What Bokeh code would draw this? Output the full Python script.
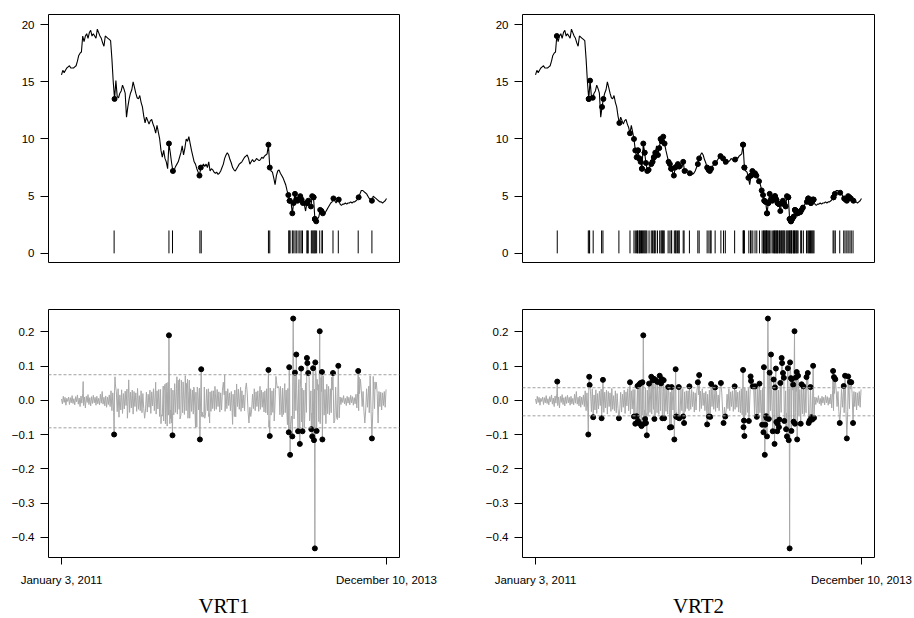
import numpy as np
from bokeh.plotting import figure
from bokeh.layouts import row, column
from bokeh.models import FixedTicker, Span, Range1d
from bokeh.core.properties import value
from bokeh.embed import file_html
from bokeh.resources import INLINE

# ---------------- data ----------------
price_step = 3  # trading days between stored prices
ret_step = 2    # trading days between stored ordinary returns
n_last_day = 735
date_labels = ["January 3, 2011", "December 10, 2013"]
panel_names = ["VRT1", "VRT2"]

price = [
    15.6, 16.0, 15.8, 16.0, 16.2, 16.3, 16.4, 16.2, 16.2, 16.2,
    16.3, 16.4, 16.8, 17.3, 17.5, 17.6, 19.0, 18.5, 19.0, 19.2,
    18.8, 19.3, 19.5, 19.0, 19.2, 19.0, 18.8, 19.6, 19.3, 19.0,
    18.8, 18.4, 18.1, 19.0, 18.9, 18.8, 18.7, 18.6, 17.0, 15.0,
    13.5, 15.1, 13.7, 13.6, 14.0, 14.2, 14.7, 14.4, 14.0, 11.9,
    12.8, 13.5, 14.0, 14.3, 15.0, 14.5, 14.0, 13.6, 13.5, 13.8,
    13.2, 12.8, 12.0, 11.4, 11.9, 11.6, 11.3, 11.6, 11.7, 11.3,
    11.0, 10.5, 11.2, 10.6, 10.0, 9.0, 8.4, 9.0, 8.3, 8.0,
    7.4, 9.6, 8.8, 7.9, 7.2, 7.3, 7.6, 7.8, 8.0, 8.4,
    8.8, 9.4, 8.6, 9.2, 10.0, 9.8, 10.2, 9.6, 9.0, 8.5,
    8.0, 7.8, 7.4, 7.1, 6.8, 7.5, 7.6, 7.8, 7.6, 7.8,
    7.5, 8.0, 7.2, 7.4, 7.3, 7.1, 7.0, 7.1, 6.9, 7.0,
    7.2, 7.5, 7.8, 8.3, 8.6, 8.8, 8.6, 8.2, 7.9, 7.5,
    7.3, 7.2, 7.4, 7.6, 7.8, 7.9, 8.0, 8.2, 8.4, 8.5,
    8.6, 8.3, 7.8, 8.0, 8.2, 8.0, 8.1, 8.3, 8.2, 8.1,
    8.2, 8.4, 8.3, 8.5, 8.6, 8.7, 9.5, 7.5, 7.2, 7.1,
    6.6, 6.0, 6.8, 7.2, 7.3, 7.0, 6.8, 6.6, 6.3, 6.0,
    5.5, 5.1, 4.6, 4.5, 3.5, 4.4, 5.2, 4.7, 4.6, 4.9,
    5.0, 4.7, 4.4, 4.3, 3.7, 4.4, 4.6, 4.3, 4.1, 5.0,
    4.9, 3.0, 2.8, 3.0, 3.2, 3.8, 3.7, 3.5, 3.4, 3.6,
    3.8, 4.0, 4.2, 4.4, 4.5, 4.8, 4.6, 4.4, 4.7, 4.7,
    4.3, 4.2, 4.3, 4.3, 4.4, 4.3, 4.4, 4.4, 4.5, 4.4,
    4.5, 4.5, 4.6, 4.7, 4.9, 5.2, 5.5, 5.5, 5.4, 5.3,
    5.2, 5.0, 4.8, 4.7, 4.6, 5.0, 4.9, 4.8, 4.7, 4.6,
    4.5, 4.5, 4.4, 4.5, 4.6, 4.8,
]

ret_base = [
    # Jan 2011 - mid 2011 (quiet)
    0.004, -0.010, 0.012, -0.006, 0.009, -0.014, 0.006, -0.003, 0.010, -0.012,
    0.008, -0.007, 0.014, -0.009, 0.005, -0.013, 0.011, -0.004, 0.016, -0.011,
    0.007, -0.018, 0.013, -0.008, 0.020, -0.015, 0.010, -0.022, 0.012, -0.006,
    0.017, -0.012, 0.008, -0.016, 0.011, -0.009, 0.015, -0.007, 0.009, -0.014,
    0.012, -0.010, 0.006, -0.013, 0.018, -0.008, 0.026, -0.011, 0.009, -0.016,
    0.013, -0.020, 0.010, -0.012, 0.016, -0.018,
    # mid 2011 - late 2011
    0.028, -0.030, 0.022, -0.036, 0.030, -0.018, 0.025, -0.033, 0.034, -0.020,
    0.016, -0.028, 0.031, -0.038, 0.020, -0.025, 0.027, -0.015, 0.033, -0.030,
    0.018, -0.035, 0.024, -0.022, 0.030, -0.040, 0.026, -0.018, 0.022, -0.032,
    0.035, -0.026, 0.014, -0.030, 0.028, -0.036, 0.020, -0.024, 0.032, -0.028,
    0.024, -0.034, 0.018, -0.020, 0.030, -0.038, 0.025, -0.016, 0.034, -0.030,
    0.022, -0.040, 0.028, -0.025, 0.032,
    # late 2011 - spring 2012 (busy)
    -0.038, 0.032, -0.042, 0.035, -0.030, 0.028, -0.040, 0.036, -0.034, 0.025,
    -0.043, 0.034, -0.028, 0.036, -0.038, 0.030, -0.042, 0.022, -0.035, 0.035,
    -0.040, 0.031, -0.026, 0.036, -0.043, 0.033, -0.036, 0.028, -0.041, 0.035,
    -0.030, 0.036, -0.038, 0.026, -0.043, 0.034, -0.032, 0.030, -0.040, 0.036,
    -0.035, 0.024, -0.042, 0.033, -0.028, 0.036, -0.039, 0.030, -0.034, 0.035,
    -0.041, 0.027, -0.036, 0.032, -0.030, 0.034, -0.038, 0.025, -0.032, 0.028,
    # spring 2012 - autumn 2012
    -0.024, 0.028, -0.030, 0.020, -0.026, 0.032, -0.018, 0.025, -0.034, 0.022,
    -0.028, 0.030, -0.020, 0.016, -0.032, 0.027, -0.024, 0.034, -0.015, 0.022,
    -0.030, 0.026, -0.036, 0.018, -0.022, 0.030, -0.028, 0.024, -0.018, 0.033,
    -0.026, 0.020, -0.032, 0.028, -0.022, 0.016, -0.030, 0.032, -0.025, 0.022,
    -0.034, 0.026, -0.020, 0.030, -0.028, 0.018, -0.024, 0.034, -0.030, 0.025,
    -0.018, 0.028, -0.032, 0.022, -0.026, 0.030, -0.020, 0.024, -0.034, 0.028,
    # autumn 2012 - mid 2013 (very busy)
    -0.036, 0.034, -0.042, 0.030, -0.038, 0.036, -0.043, 0.028, -0.035, 0.035,
    -0.040, 0.032, -0.043, 0.036, -0.030, 0.034, -0.042, 0.025, -0.038, 0.036,
    -0.041, 0.033, -0.036, 0.030, -0.043, 0.035, -0.034, 0.036, -0.040, 0.028,
    -0.042, 0.034, -0.038, 0.036, -0.030, 0.032, -0.043, 0.035, -0.036, 0.026,
    -0.041, 0.036, -0.039, 0.030, -0.043, 0.034, -0.035, 0.036, -0.040, 0.031,
    -0.042, 0.028, -0.037, 0.035, -0.043, 0.033, -0.038, 0.036, -0.032, 0.030,
    -0.041, 0.034, -0.036, 0.026, -0.040, 0.035, -0.043, 0.032, -0.034, 0.036,
    -0.039, 0.028, -0.042, 0.034, -0.036, 0.030, -0.038, 0.032, -0.030, 0.026,
    -0.034, 0.028, -0.032, 0.024,
    # mid 2013 (quiet spell)
    0.010, -0.012, 0.008, -0.006, 0.014, -0.010, 0.006, -0.015, 0.012, -0.008,
    0.009, -0.013, 0.015, -0.007, 0.011, -0.014, 0.008, -0.010, 0.018,
    # late 2013
    -0.022, 0.028, -0.030, 0.020, -0.034, 0.030, -0.018, 0.026, -0.032, 0.024,
    -0.028, 0.034, -0.020, 0.022, -0.036, 0.030, -0.026, 0.018, -0.032, 0.028,
    -0.024, 0.033, -0.030, 0.020, -0.035, 0.026, -0.018, 0.024, -0.028, 0.022,
    -0.015, 0.026, -0.020, 0.032,
]

# flagged days (trading-day index) and their returns
out_day = [
    49, 119, 121, 122, 130, 149, 152, 188, 213, 222, 225, 228, 230, 231, 234,
    235, 237, 239, 241, 243, 245, 247, 249, 251, 256, 261, 264, 267, 268, 271,
    275, 280, 283, 285, 286, 289, 290, 299, 303, 306, 307, 313, 316, 317, 320,
    323, 324, 333, 335, 347, 366, 369, 387, 391, 394, 396, 405, 418, 424, 428,
    449, 468, 469, 470, 471, 481, 485, 486, 490, 495, 499, 505, 511, 514, 515,
    517, 518, 520, 521, 522, 524, 526, 528, 531, 535, 537, 539, 540, 542, 543,
    545, 546, 549, 550, 552, 555, 556, 558, 560, 561, 565, 567, 569, 571, 573,
    574, 576, 577, 578, 581, 582, 584, 585, 587, 589, 590, 592, 598, 600, 604,
    611, 614, 616, 618, 620, 622, 624, 626, 628, 671, 673, 676, 686, 695, 698,
    702, 705, 709, 712, 716,
]
out_ret = [
    0.055, -0.0995, 0.069, 0.045, -0.049, -0.052, 0.060, -0.052, 0.053, -0.047, -0.068, -0.046, 0.042, -0.060, 0.047,
    -0.068, 0.051, -0.075, 0.053, 0.190, -0.068, -0.054, -0.066, -0.102, 0.049, 0.069, 0.059, 0.063, -0.054, 0.059,
    0.054, 0.072, 0.050, 0.062, -0.052, 0.059, -0.052, 0.039, -0.079, -0.078, 0.039, -0.114, 0.091, -0.047, -0.049,
    0.039, -0.052, -0.047, -0.066, 0.041, 0.053, 0.074, -0.070, -0.047, -0.048, 0.048, 0.038, 0.051, -0.066, -0.047,
    0.041, 0.089, -0.078, -0.059, -0.104, -0.060, 0.070, 0.057, 0.041, 0.041, -0.048, 0.049, -0.071, -0.093, 0.097,
    -0.159, -0.071, -0.046, -0.051, -0.105, 0.239, -0.054, 0.081, 0.134, -0.090, 0.061, -0.127, 0.038, 0.093, -0.063,
    -0.090, -0.068, -0.078, -0.056, 0.051, 0.124, 0.109, 0.080, 0.066, -0.060, -0.084, -0.105, 0.094, -0.116, -0.432,
    0.111, 0.065, -0.089, 0.062, 0.046, -0.062, 0.202, -0.068, 0.067, 0.083, -0.114, 0.072, -0.068, 0.047, 0.041,
    0.068, 0.080, -0.066, -0.059, 0.039, -0.049, -0.056, 0.101, -0.051, 0.086, 0.068, 0.062, -0.066, 0.042, 0.072,
    -0.111, 0.070, 0.054, 0.053, -0.066,
]

# dashed bounds of each rule (upper, lower)
bounds = {"VRT1": (0.075, -0.08), "VRT2": (0.037, -0.045)}
price_ticks = [0, 5, 10, 15, 20]
ret_ticks = [-0.4, -0.3, -0.2, -0.1, 0.0, 0.1, 0.2]
rug_height = 2

# ---------------- derived ----------------
price = np.array(price)
pdays = np.arange(len(price)) * price_step
rdays = np.arange(len(ret_base)) * ret_step
od = np.array(out_day)
ov = np.array(out_ret)
keep = ~np.isin(rdays, od)
all_d = np.concatenate([rdays[keep], od])
all_v = np.concatenate([np.array(ret_base)[keep], ov])
order = np.argsort(all_d, kind="stable")
ret_x, ret_y = all_d[order], all_v[order]
grid_idx = np.rint(od / price_step).astype(int)

xr = (-0.04 * n_last_day, 1.04 * n_last_day)
top_yr = (-0.80, 20.88)
bot_yr = (-0.4586, 0.2654)

TICK_FONT = "Liberation Sans"
TICK_SIZE = "11.5px"

# column geometry: (figure width, left border, right border)
COLS = [(460, 48, 61), (452, 62, 38)]
FRAME_H = 248


def fmt(v):
    s = "%.1f" % abs(v)
    return ("\u2212" + s) if v < -1e-9 else s


def style(p, lb, rb, tb, bb):
    p.min_border_left = lb
    p.min_border_right = rb
    p.min_border_top = tb
    p.min_border_bottom = bb
    p.grid.grid_line_color = None
    p.outline_line_color = "black"
    p.outline_line_alpha = 1.0
    p.outline_line_width = 1
    p.background_fill_color = "white"
    p.border_fill_color = "white"
    for ax in p.yaxis:
        ax.axis_line_color = None
        ax.major_tick_out = 8
        ax.major_tick_in = 0
        ax.minor_tick_line_color = None
        ax.major_tick_line_color = "black"
        ax.major_label_standoff = 6
        ax.major_label_text_font = TICK_FONT
        ax.major_label_text_font_size = TICK_SIZE
        ax.major_label_text_color = "black"


def top_panel(mask, col):
    width, lb, rb = COLS[col]
    p = figure(width=width, height=14 + FRAME_H + 23, output_backend="svg",
               toolbar_location=None, x_range=Range1d(*xr), y_range=Range1d(*top_yr),
               x_axis_location=None, title=None)
    style(p, lb, rb, 14, 23)
    p.yaxis.ticker = FixedTicker(ticks=price_ticks)
    p.line(pdays, price, line_color="black", line_width=1.1)
    gi = grid_idx[mask]
    p.scatter(pdays[gi], price[gi], size=5, color="black")
    d = od[mask]
    p.segment(x0=d, y0=np.zeros(len(d)), x1=d, y1=np.full(len(d), rug_height),
              line_color="black", line_width=1)
    return p


def bottom_panel(mask, name, col):
    width, lb, rb = COLS[col]
    up, lo = bounds[name]
    p = figure(width=width, height=24 + FRAME_H + 31, output_backend="svg",
               toolbar_location=None, x_range=Range1d(*xr), y_range=Range1d(*bot_yr),
               title=None)
    style(p, lb, rb, 24, 31)
    p.yaxis.ticker = FixedTicker(ticks=ret_ticks)
    p.yaxis.major_label_overrides = {t: fmt(t) for t in ret_ticks}
    xa = p.xaxis[0]
    xa.ticker = FixedTicker(ticks=[0, n_last_day])
    xa.major_label_overrides = {0: date_labels[0], n_last_day: date_labels[1]}
    xa.axis_line_color = None
    xa.major_tick_out = 7
    xa.major_tick_in = 0
    xa.minor_tick_line_color = None
    xa.major_label_standoff = 9
    xa.major_label_text_font = TICK_FONT
    xa.major_label_text_font_size = TICK_SIZE
    xa.major_label_text_color = "black"
    for loc in (up, lo):
        p.add_layout(Span(location=loc, dimension="width", line_color="#a0a0a0",
                          line_dash="3 2", line_width=1))
    p.line(ret_x, ret_y, line_color="#a8a8a8", line_width=1)
    p.scatter(od[mask], ov[mask], size=5, color="black")
    return p


def name_panel(name, col):
    width, lb, rb = COLS[col]
    h = 30
    p = figure(width=width, height=h, output_backend="svg", toolbar_location=None,
               x_range=Range1d(0, width), y_range=Range1d(0, h),
               x_axis_location=None, y_axis_location=None, title=None)
    p.min_border = 0
    p.min_border_left = 0
    p.min_border_right = 0
    p.min_border_top = 0
    p.min_border_bottom = 0
    p.outline_line_color = None
    p.grid.grid_line_color = None
    p.background_fill_color = "white"
    p.border_fill_color = "white"
    p.text(x=[lb + (width - lb - rb) / 2], y=[h - 17.5], text=[name],
           text_align="center", text_baseline="middle",
           text_font=value("Liberation Serif"), text_font_size="21px",
           text_color="black")
    return p


m1 = (ov > bounds["VRT1"][0]) | (ov < bounds["VRT1"][1])
m2 = np.ones(len(ov), dtype=bool)

p1 = top_panel(m1, 0)
p2 = bottom_panel(m1, "VRT1", 0)
n1 = name_panel("VRT1", 0)
p3 = top_panel(m2, 1)
p4 = bottom_panel(m2, "VRT2", 1)
n2 = name_panel("VRT2", 1)

layout = column(row(p1, p3), row(p2, p4), row(n1, n2))
open("out.html", "w").write(file_html(layout, INLINE))
